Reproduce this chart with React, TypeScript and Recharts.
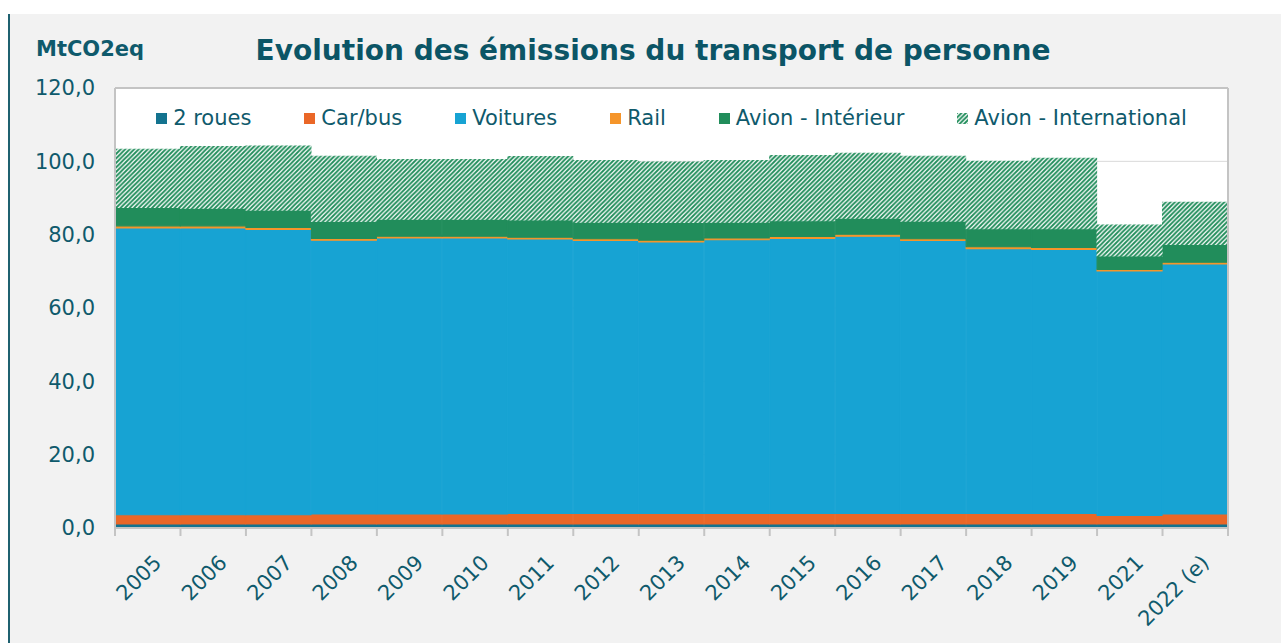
import {
  BarChart,
  Bar,
  XAxis,
  YAxis,
  CartesianGrid,
  Legend,
  ReferenceLine,
} from "recharts";

const YEARS = [
  "2005", "2006", "2007", "2008", "2009", "2010", "2011", "2012", "2013",
  "2014", "2015", "2016", "2017", "2018", "2019", "2021", "2022 (e)",
];

const DEUX_ROUES = [1.1, 1.1, 1.1, 1.1, 1.1, 1.1, 1.1, 1.1, 1.1, 1.1, 1.1, 1.1, 1.1, 1.1, 1.1, 1.1, 1.1];
const CAR_BUS = [2.5, 2.5, 2.5, 2.7, 2.7, 2.7, 2.9, 2.9, 2.9, 2.9, 2.9, 2.9, 2.9, 2.9, 2.9, 2.3, 2.7];
const VOITURES = [78.2, 78.2, 77.8, 74.7, 75.3, 75.3, 74.8, 74.4, 74.0, 74.6, 75.0, 75.6, 74.4, 72.2, 72.0, 66.7, 68.2];
const RAIL = [0.6, 0.6, 0.6, 0.5, 0.5, 0.5, 0.5, 0.5, 0.5, 0.5, 0.5, 0.5, 0.5, 0.5, 0.5, 0.4, 0.5];
const AVION_INTERIEUR = [5.0, 4.8, 4.7, 4.6, 4.6, 4.6, 4.7, 4.5, 4.8, 4.3, 4.3, 4.4, 4.8, 4.9, 5.1, 3.7, 4.8];
const AVION_INTERNATIONAL = [15.9, 16.8, 17.5, 17.8, 16.3, 16.3, 17.3, 16.8, 16.5, 16.8, 17.8, 17.7, 17.7, 18.4, 19.2, 8.4, 11.5];

const Y_TICKS = [0, 20, 40, 60, 80, 100, 120];

const SERIES = [
  { key: "deuxRoues", name: "2 roues", fill: "#13738f" },
  { key: "carBus", name: "Car/bus", fill: "#ea6727" },
  { key: "voitures", name: "Voitures", fill: "#17a3d3" },
  { key: "rail", name: "Rail", fill: "#f5952a" },
  { key: "avionInterieur", name: "Avion - Intérieur", fill: "#218d5b" },
  { key: "avionInternational", name: "Avion - International", fill: "url(#hatch)" },
];

const data = YEARS.map((year, i) => ({
  year,
  deuxRoues: DEUX_ROUES[i],
  carBus: CAR_BUS[i],
  voitures: VOITURES[i],
  rail: RAIL[i],
  avionInterieur: AVION_INTERIEUR[i],
  avionInternational: AVION_INTERNATIONAL[i],
}));

const W = 1281;
const H = 643;
const MARGIN = { top: 88, right: 53, bottom: 0, left: 15 };
const Y_AXIS_W = 100;
const X_AXIS_H = 115;
const BAND = (W - MARGIN.left - Y_AXIS_W - MARGIN.right) / YEARS.length;

const TEXT = "#0f5a6c";
const FONT = "'DejaVu Sans', Verdana, sans-serif";
const GREEN = "#218d5b";
const BORDER = "#c4c4c4";

const fmt = (v: number) => v.toFixed(1).replace(".", ",");

const XTick = (props: any) => {
  const { x, y, payload, index } = props;
  const tx = x + 15;
  const ty = y + 36;
  return (
    <g>
      <line x1={x - BAND / 2} x2={x - BAND / 2} y1={y} y2={y + 8} stroke={BORDER} strokeWidth={2} />
      {index === YEARS.length - 1 && (
        <line x1={x + BAND / 2} x2={x + BAND / 2} y1={y} y2={y + 8} stroke={BORDER} strokeWidth={2} />
      )}
      <text
        x={tx}
        y={ty}
        textAnchor="end"
        transform={`rotate(-45, ${tx}, ${ty})`}
        fill={TEXT}
        fontSize={21}
        fontFamily={FONT}
      >
        {payload.value}
      </text>
    </g>
  );
};

const LegendContent = () => (
  <div
    style={{
      display: "flex",
      justifyContent: "center",
      alignItems: "center",
      gap: 53,
      fontFamily: FONT,
      fontSize: 21,
      lineHeight: "24px",
      color: TEXT,
      whiteSpace: "nowrap",
    }}
  >
    {SERIES.map((s) => (
      <div key={s.key} style={{ display: "flex", alignItems: "center" }}>
        <svg width={11} height={11} style={{ marginRight: 6 }}>
          <rect width={11} height={11} fill={s.fill} />
        </svg>
        <span>{s.name}</span>
      </div>
    ))}
  </div>
);

export default function App() {
  return (
    <div style={{ position: "absolute", left: 0, top: 0, width: W, height: H, background: "#fff", overflow: "hidden" }}>
      <div
        style={{
          position: "absolute",
          left: 8,
          top: 14,
          right: 0,
          bottom: 0,
          background: "#f2f2f2",
          borderLeft: "2px solid #1f6170",
        }}
      />
      <div
        style={{
          position: "absolute",
          left: 36,
          top: 39,
          fontFamily: FONT,
          fontWeight: "bold",
          fontSize: 21,
          lineHeight: "21px",
          color: TEXT,
        }}
      >
        MtCO2eq
      </div>
      <div
        style={{
          position: "absolute",
          left: 253,
          top: 37,
          width: 800,
          textAlign: "center",
          fontFamily: FONT,
          fontWeight: "bold",
          fontSize: 28,
          lineHeight: "28px",
          color: "#0b5566",
          whiteSpace: "nowrap",
        }}
      >
        Evolution des émissions du transport de personne
      </div>
      <div style={{ position: "absolute", left: 0, top: 0 }}>
        <BarChart width={W} height={H} data={data} margin={MARGIN} barCategoryGap={0}>
          <defs>
            <pattern id="hatch" patternUnits="userSpaceOnUse" width={4.5} height={4.5}>
              <rect width={4.5} height={4.5} fill="#ffffff" />
              <path d="M0,4.5 L4.5,0 M-1.125,1.125 L1.125,-1.125 M3.375,5.625 L5.625,3.375" stroke={GREEN} strokeWidth={1.9} />
            </pattern>
          </defs>
          <CartesianGrid vertical={false} stroke="#d9d9d9" fill="#ffffff" />
          <XAxis
            dataKey="year"
            height={X_AXIS_H}
            interval={0}
            tickLine={false}
            tickSize={0}
            tickMargin={0}
            axisLine={{ stroke: BORDER, strokeWidth: 2 }}
            tick={<XTick />}
          />
          <YAxis
            width={Y_AXIS_W}
            domain={[0, 120]}
            ticks={Y_TICKS}
            tickFormatter={fmt}
            tickLine={false}
            tickSize={0}
            tickMargin={20}
            axisLine={{ stroke: BORDER, strokeWidth: 2 }}
            tick={{ fill: TEXT, fontSize: 21, fontFamily: FONT }}
          />
          <Legend
            layout="horizontal"
            verticalAlign="middle"
            content={<LegendContent />}
            wrapperStyle={{ top: 106, left: 115, width: 1113, bottom: "auto" }}
          />
          {SERIES.map((s) => (
            <Bar
              key={s.key}
              dataKey={s.key}
              name={s.name}
              stackId="a"
              fill={s.fill}
              stroke={s.fill}
              strokeWidth={1.1}
              isAnimationActive={false}
            />
          ))}
          <ReferenceLine y={120} stroke={BORDER} strokeWidth={2} />
          <ReferenceLine x="2022 (e)" position="end" stroke={BORDER} strokeWidth={2} />
        </BarChart>
      </div>
    </div>
  );
}
